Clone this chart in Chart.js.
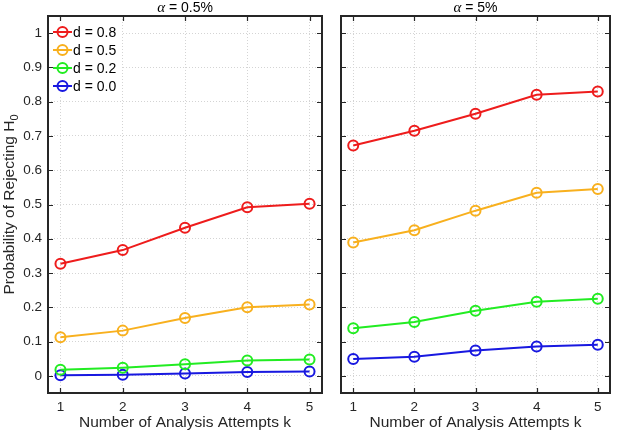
<!DOCTYPE html>
<html><head><meta charset="utf-8">
<script src="https://cdn.jsdelivr.net/npm/chart.js@4"></script>
<style>
html,body{margin:0;padding:0;background:#fff;overflow:hidden}
#wrap{position:relative;width:617px;height:434px;background:#fff}
canvas{position:absolute;top:0}
</style></head><body>
<div id="wrap">
<canvas id="c1" width="330" height="434" style="left:0;width:330px;height:434px"></canvas>
<canvas id="c2" width="287" height="434" style="left:330px;width:287px;height:434px"></canvas>
</div>
<script>
// ---- data ----
const attempts = [1, 2, 3, 4, 5];
const xTicks = [1, 2, 3, 4, 5];
const yTicks = [0, 0.1, 0.2, 0.3, 0.4, 0.5, 0.6, 0.7, 0.8, 0.9, 1];
const yTickLabels = ['0', '0.1', '0.2', '0.3', '0.4', '0.5', '0.6', '0.7', '0.8', '0.9', '1'];
const effectLabels = ['d = 0.8', 'd = 0.5', 'd = 0.2', 'd = 0.0'];
const panelTitles = ['0.5%', '5%'];

// alpha = 0.5%
const a05_d08 = [0.327, 0.367, 0.432, 0.492, 0.502];
const a05_d05 = [0.113, 0.132, 0.169, 0.200, 0.208];
const a05_d02 = [0.018, 0.024, 0.034, 0.045, 0.048];
const a05_d00 = [0.002, 0.003, 0.007, 0.011, 0.013];
// alpha = 5%
const a5_d08 = [0.672, 0.715, 0.765, 0.820, 0.830];
const a5_d05 = [0.389, 0.425, 0.482, 0.534, 0.545];
const a5_d02 = [0.139, 0.157, 0.190, 0.216, 0.225];
const a5_d00 = [0.049, 0.056, 0.074, 0.086, 0.091];

// ---- styles ----
const seriesColors = ['#ee1c1c', '#f8b01e', '#22ec22', '#1818e0'];
const INK = '#262626';
const SANS = '"Liberation Sans", Arial, Helvetica, sans-serif';

function makeDatasets(series) {
  return series.map((vals, i) => ({
    label: effectLabels[i],
    data: attempts.map((k, j) => ({ x: k, y: vals[j] })),
    borderColor: seriesColors[i],
    backgroundColor: 'rgba(0,0,0,0)',
    pointBorderColor: seriesColors[i],
    pointBackgroundColor: 'rgba(0,0,0,0)',
    borderWidth: 2,
    pointRadius: 5,
    pointBorderWidth: 2,
    pointHoverRadius: 5,
    tension: 0,
    fill: false
  }));
}

function framePlugin(opts) {
  return {
    id: 'frame' + opts.key,
    beforeDatasetsDraw(chart) {
      if (!opts.legend) return;
      const { ctx, chartArea: a } = chart;
      ctx.save();
      ctx.fillStyle = '#fff';
      ctx.fillRect(a.left + 2, 22, 72, 74);
      ctx.restore();
    },
    afterDatasetsDraw(chart) {
      if (!opts.legend) return;
      const { ctx } = chart;
      ctx.save();
      const rows = [32, 50, 68, 86];
      chart.data.datasets.forEach((ds, i) => {
        const yy = rows[i];
        ctx.strokeStyle = ds.borderColor;
        ctx.lineWidth = 2;
        ctx.beginPath();
        ctx.moveTo(53, yy); ctx.lineTo(72, yy);
        ctx.stroke();
        ctx.beginPath();
        ctx.arc(62.5, yy, 5, 0, Math.PI * 2);
        ctx.stroke();
        ctx.fillStyle = '#000';
        ctx.font = '14px ' + SANS;
        ctx.textBaseline = 'middle';
        ctx.textAlign = 'left';
        ctx.fillText(ds.label, 73, yy + 1);
      });
      ctx.restore();
    },
    afterDraw(chart) {
      const { ctx, chartArea: a, scales: { x, y } } = chart;
      ctx.save();
      // inward ticks on all four sides
      ctx.strokeStyle = INK;
      ctx.lineWidth = 1.2;
      const L = 5;
      ctx.beginPath();
      xTicks.forEach(v => {
        const px = Math.round(x.getPixelForValue(v)) + 0.5;
        ctx.moveTo(px, a.bottom); ctx.lineTo(px, a.bottom - L);
        ctx.moveTo(px, a.top); ctx.lineTo(px, a.top + L);
      });
      yTicks.forEach(v => {
        const py = Math.round(y.getPixelForValue(v)) + 0.5;
        ctx.moveTo(a.left, py); ctx.lineTo(a.left + L, py);
        ctx.moveTo(a.right, py); ctx.lineTo(a.right - L, py);
      });
      ctx.stroke();
      // box
      ctx.lineWidth = 2;
      ctx.strokeRect(a.left, a.top, a.right - a.left, a.bottom - a.top);

      // title: italic alpha + " = value"
      const cx = (a.left + a.right) / 2;
      const fA = 'italic 15px "Liberation Serif", "DejaVu Serif", serif';
      const fR = '14px ' + SANS;
      const rest = ' = ' + opts.title;
      ctx.font = fA; const wA = ctx.measureText('\u03B1').width;
      ctx.font = fR; const wR = ctx.measureText(rest).width;
      let sx = cx - (wA + wR) / 2;
      ctx.fillStyle = '#000';
      ctx.textBaseline = 'alphabetic';
      ctx.textAlign = 'left';
      ctx.font = fA; ctx.fillText('\u03B1', sx, 12);
      ctx.font = fR; ctx.fillText(rest, sx + wA, 12);

      // x axis title
      ctx.font = '15.5px ' + SANS;
      ctx.fillStyle = INK;
      ctx.textAlign = 'center';
      ctx.textBaseline = 'middle';
      ctx.fillText('Number of Analysis Attempts k', cx, 423);

      // y axis title with subscript
      if (opts.ylabel) {
        const cy = (a.top + a.bottom) / 2;
        ctx.translate(10, cy);
        ctx.rotate(-Math.PI / 2);
        const main = 'Probability of Rejecting H';
        ctx.font = '15.5px ' + SANS;
        const wm = ctx.measureText(main).width;
        ctx.font = '11px ' + SANS;
        const ws = ctx.measureText('0').width;
        const st = -(wm + ws) / 2;
        ctx.textAlign = 'left';
        ctx.textBaseline = 'middle';
        ctx.font = '15.5px ' + SANS;
        ctx.fillText(main, st, 0);
        ctx.font = '11px ' + SANS;
        ctx.fillText('0', st + wm, 5);
      }
      ctx.restore();
    }
  };
}

function makeChart(id, series, opts) {
  const tickFont = { family: SANS, size: 13.5 };
  return new Chart(document.getElementById(id), {
    type: 'line',
    data: { datasets: makeDatasets(series) },
    options: {
      responsive: false,
      animation: false,
      devicePixelRatio: 1,
      layout: { padding: { left: 0, right: opts.padRight, top: 16, bottom: 0 } },
      plugins: { legend: { display: false }, tooltip: { enabled: false }, title: { display: false } },
      scales: {
        x: {
          type: 'linear', min: 0.8, max: 5.2,
          afterBuildTicks: s => { s.ticks = xTicks.map(v => ({ value: v })); },
          afterFit: s => { s.height = 41; },
          ticks: { font: tickFont, color: INK, padding: 6, maxRotation: 0, autoSkip: false,
                   callback: v => String(v) },
          grid: { color: '#d4d4d4', lineWidth: 1, drawTicks: false },
          border: { display: false, dash: [1, 2] }
        },
        y: {
          type: 'linear', min: -0.05, max: 1.05,
          afterBuildTicks: s => { s.ticks = yTicks.map(v => ({ value: v })); },
          afterFit: s => { s.width = opts.yWidth; },
          ticks: { display: opts.ylabel, font: tickFont, color: INK, padding: 6, autoSkip: false,
                   callback: (v, i) => yTickLabels[i] },
          grid: { color: '#d4d4d4', lineWidth: 1, drawTicks: false },
          border: { display: false, dash: [1, 2] }
        }
      }
    },
    plugins: [framePlugin(opts)]
  });
}

makeChart('c1', [a05_d08, a05_d05, a05_d02, a05_d00],
  { key: 'L', title: panelTitles[0], ylabel: true, legend: true, yWidth: 48, padRight: 8 });
makeChart('c2', [a5_d08, a5_d05, a5_d02, a5_d00],
  { key: 'R', title: panelTitles[1], ylabel: false, legend: false, yWidth: 11, padRight: 1 });
</script>
</body></html>
